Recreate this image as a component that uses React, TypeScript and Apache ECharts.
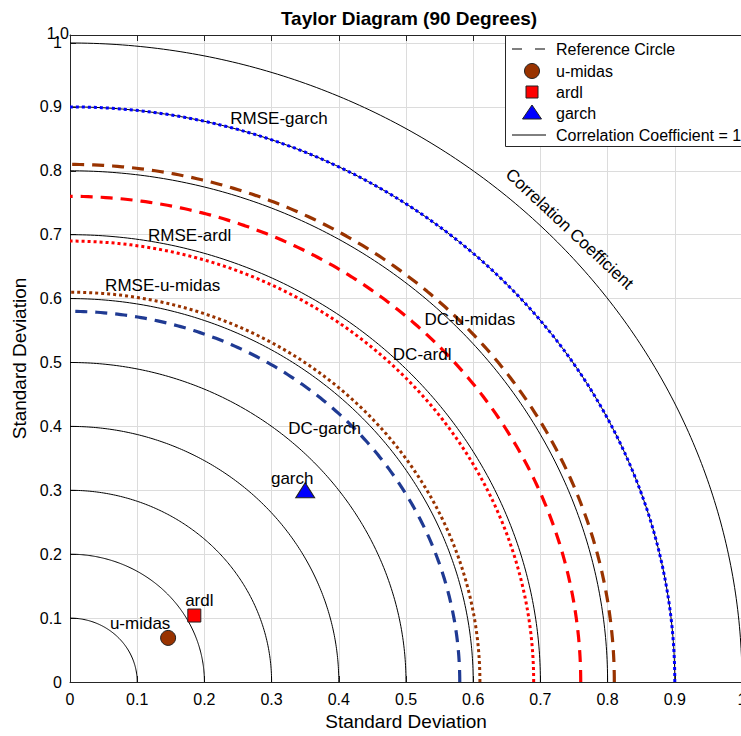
import React, { useEffect, useRef } from 'react';
import * as echarts from 'echarts';

// ---- data ----
const stdCircleRadii = [0.1, 0.2, 0.3, 0.4, 0.5, 0.6, 0.7, 0.8, 0.9, 1.0];
const modelNames = ['u-midas', 'ardl', 'garch'];
const modelX = [0.146, 0.185, 0.35];
const modelY = [0.069, 0.104, 0.3];
const contourNames = ['RMSE-garch', 'DC-u-midas', 'DC-ardl', 'RMSE-ardl', 'RMSE-u-midas', 'DC-garch'];
const contourRadii = [0.9, 0.81, 0.76, 0.69, 0.61, 0.58];
const legendLabels = ['Reference Circle', 'u-midas', 'ardl', 'garch', 'Correlation Coefficient = 1'];

// ---- label placement (data units) ----
const contourLabelX = [0.311, 0.595, 0.524, 0.178, 0.138, 0.379];
const contourLabelY = [0.882, 0.568, 0.513, 0.6995, 0.621, 0.396];
const corrLabel = { text: 'Correlation Coefficient', x: 0.7433, y: 0.7089, rotate: -43 };

// ---- styles ----
const FONT = 'Liberation Sans, Arial, sans-serif';
const BROWN = '#993300';
const contourStyle: Record<string, { color: string; type: any; width: number }> = {
  'RMSE-garch': { color: '#0000FF', type: [3, 3], width: 3 },
  'DC-u-midas': { color: BROWN, type: [12, 8], width: 3.2 },
  'DC-ardl': { color: '#FF0000', type: [12, 8], width: 3.2 },
  'RMSE-ardl': { color: '#FF0000', type: [3, 3], width: 3 },
  'RMSE-u-midas': { color: BROWN, type: [3, 3], width: 3 },
  'DC-garch': { color: '#1F3A93', type: [12, 8], width: 3.2 },
};
const modelStyle: Record<string, { symbol: string; size: number | number[]; color: string; offset: number[] }> = {
  'u-midas': { symbol: 'circle', size: 15, color: BROWN, offset: [-28, -14] },
  ardl: { symbol: 'rect', size: 13, color: '#FF0000', offset: [5, -15] },
  garch: { symbol: 'triangle', size: [19, 15], color: '#0000FF', offset: [-13, -12] },
};

function arc(r: number) {
  const pts: number[][] = [];
  for (let i = 0; i <= 180; i++) {
    const t = (i / 180) * (Math.PI / 2);
    pts.push([r * Math.cos(t), r * Math.sin(t)]);
  }
  return pts;
}

function legendGraphic() {
  const L = 505, T = 35, W = 260, H = 111;
  const rowY = [49, 71, 92, 113, 135];
  const textX = 556;
  const els: any[] = [
    { type: 'rect', shape: { x: L + 0.5, y: T + 0.5, width: W, height: H }, style: { fill: '#fff', stroke: '#262626', lineWidth: 1 }, z: 100 },
  ];
  els.push({ type: 'line', shape: { x1: 512, y1: rowY[0], x2: 546, y2: rowY[0] }, style: { stroke: '#555', lineWidth: 1.5, lineDash: [10, 13] }, z: 101 });
  els.push({ type: 'circle', shape: { cx: 532, cy: rowY[1], r: 7.5 }, style: { fill: BROWN, stroke: '#222', lineWidth: 1 }, z: 101 });
  els.push({ type: 'rect', shape: { x: 526, y: rowY[2] - 6, width: 12, height: 12 }, style: { fill: '#FF0000', stroke: '#222', lineWidth: 1 }, z: 101 });
  els.push({ type: 'polygon', shape: { points: [[532, rowY[3] - 8], [522.5, rowY[3] + 6], [541.5, rowY[3] + 6]] }, style: { fill: '#0000FF', stroke: '#222', lineWidth: 1 }, z: 101 });
  els.push({ type: 'line', shape: { x1: 512, y1: rowY[4], x2: 546, y2: rowY[4] }, style: { stroke: '#000', lineWidth: 1 }, z: 101 });
  legendLabels.forEach((t, i) => {
    els.push({ type: 'text', x: textX, y: rowY[i], style: { text: t, fontSize: 16, fontFamily: FONT, fill: '#000', align: 'left', verticalAlign: 'middle' }, z: 102 });
  });
  return els;
}

export default function App() {
  const ref = useRef<HTMLDivElement>(null);
  useEffect(() => {
    if (!ref.current) return;
    const chart = echarts.init(ref.current, undefined, { renderer: 'svg' });
    const series: any[] = [];

    stdCircleRadii.forEach((r, i) => {
      series.push({
        type: 'line',
        name: 'std' + i,
        data: arc(r),
        showSymbol: false,
        symbol: 'none',
        silent: true,
        lineStyle: { color: '#000', width: 1 },
        z: 3,
      });
    });

    contourNames.forEach((n, i) => {
      const s = contourStyle[n];
      series.push({
        type: 'line',
        name: n,
        data: arc(contourRadii[i]),
        symbol: 'none',
        silent: true,
        lineStyle: { color: s.color, width: s.width, type: s.type, cap: 'butt' },
        z: 4,
      });
    });

    modelNames.forEach((n, i) => {
      const s = modelStyle[n];
      series.push({
        type: 'scatter',
        name: n,
        data: [[modelX[i], modelY[i]]],
        symbol: s.symbol,
        symbolSize: s.size,
        itemStyle: { color: s.color, borderColor: '#222', borderWidth: 1, opacity: 1 },
        label: {
          show: true,
          position: 'inside',
          offset: s.offset,
          formatter: n,
          color: '#000',
          fontSize: 17,
          fontFamily: FONT,
          textBorderWidth: 0,
        },
        z: 6,
      });
    });

    series.push({
      type: 'scatter',
      name: 'annotations',
      symbolSize: 1,
      silent: true,
      itemStyle: { opacity: 0 },
      data: [
        ...contourNames.map((n, i) => ({ value: [contourLabelX[i], contourLabelY[i]], name: n })),
        { value: [corrLabel.x, corrLabel.y], name: corrLabel.text, label: { rotate: corrLabel.rotate } },
      ],
      label: {
        show: true,
        position: 'inside',
        formatter: (p: any) => p.name,
        color: '#000',
        opacity: 1,
        fontSize: 17,
        fontFamily: FONT,
        textBorderWidth: 0,
        textBorderColor: 'transparent',
      },
      z: 7,
    });

    const axisLine = { show: true, lineStyle: { color: '#262626', width: 1 } };
    const axisLabel = { color: '#000', fontSize: 16, fontFamily: FONT };
    const tick = { show: true, inside: true, length: 6, lineStyle: { color: '#262626' } };

    chart.setOption({
      animation: false,
      backgroundColor: '#fff',
      textStyle: { fontFamily: FONT },
      graphic: [
        {
          type: 'text',
          x: 409,
          y: 18,
          style: {
            text: 'Taylor Diagram (90 Degrees)',
            fontSize: 19,
            fontWeight: 'bold',
            fontFamily: FONT,
            fill: '#000',
            align: 'center',
            verticalAlign: 'middle',
          },
        },
        {
          type: 'text',
          x: 69,
          y: 33,
          style: { text: '1.0', fontSize: 16, fontFamily: FONT, fill: '#000', align: 'right', verticalAlign: 'middle' },
          z: 50,
        },
        ...legendGraphic(),
      ],
      grid: { left: 70, top: 35, width: 672, height: 647, containLabel: false, outerBoundsMode: 'none' },
      xAxis: [
        {
          type: 'value',
          min: 0,
          max: 1,
          interval: 0.1,
          name: 'Standard Deviation',
          nameLocation: 'middle',
          nameGap: 30,
          nameTextStyle: { fontSize: 19, color: '#000', fontFamily: FONT },
          axisLine,
          axisTick: tick,
          axisLabel: { ...axisLabel, margin: 9, formatter: (v: number) => String(Number(v.toFixed(2))) },
          splitLine: { show: true, lineStyle: { color: '#dcdcdc', width: 1 } },
        },
        {
          type: 'value',
          position: 'top',
          min: 0,
          max: 1,
          interval: 0.1,
          axisLine,
          axisTick: tick,
          axisLabel: { show: false },
          splitLine: { show: false },
        },
      ],
      yAxis: {
        type: 'value',
        min: 0,
        max: 1.0125,
        interval: 0.1,
        name: 'Standard Deviation',
        nameLocation: 'middle',
        nameGap: 41,
        nameTextStyle: { fontSize: 19, color: '#000', fontFamily: FONT },
        axisLine,
        axisTick: tick,
        axisLabel: {
          ...axisLabel,
          margin: 8,
          showMaxLabel: false,
          formatter: (v: number) => String(Number(v.toFixed(2))),
        },
        splitLine: { show: true, lineStyle: { color: '#dcdcdc', width: 1 } },
      },
      series,
    });
    return () => chart.dispose();
  }, []);
  return <div ref={ref} style={{ position: 'fixed', left: 0, top: 0, width: 741, height: 736 }} />;
}
